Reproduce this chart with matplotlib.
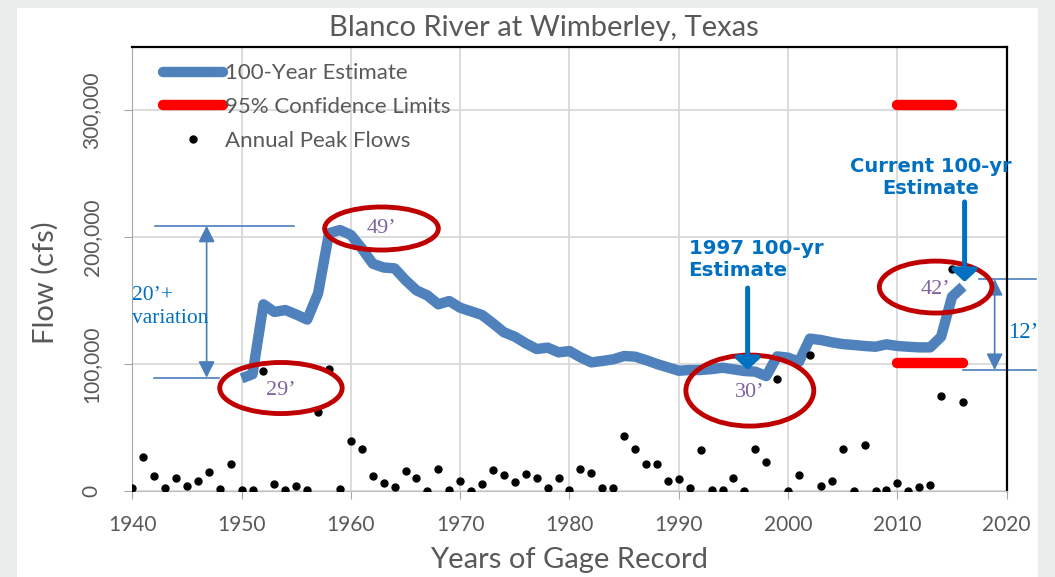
import matplotlib
matplotlib.use("Agg")
import matplotlib.pyplot as plt
from matplotlib import font_manager
from matplotlib.patches import Ellipse, Rectangle

names = {f.name for f in font_manager.fontManager.ttflist}
sans = 'Lato' if 'Lato' in names else 'DejaVu Sans'
serif = 'Liberation Serif'
plt.rcParams['font.family'] = [sans, 'DejaVu Sans']

# 100-year estimate, by year of record
est_years = list(range(1950, 2017))
est_flow = [88700, 92000, 147000, 141000, 142500, 139000, 135000, 155700, 203000, 205500,
            201600, 191000, 179000, 176000, 175300, 166000, 158000, 154000, 147000, 149600,
            144300, 141500, 138600, 132000, 125000, 121500, 116300, 111800, 112900, 109200,
            110200, 105300, 101300, 102400, 103700, 106300, 105800, 103100, 100000, 97400,
            94700, 95300, 95300, 96000, 97100, 95800, 94500, 94000, 90500, 106000,
            105000, 101800, 120000, 118900, 117100, 115700, 115000, 114200, 113600, 115500,
            114200, 113600, 113100, 113100, 121500, 153000, 161000]

# annual peak flows
peak_years = list(range(1940, 2017))
peak_flow = [2000, 27000, 12000, 2100, 10000, 4200, 7600, 14700, 1800, 21000,
             500, 1000, 94500, 5500, 800, 4000, 500, 62000, 96000, 1600,
             39000, 33000, 12000, 6500, 3400, 15700, 10000, 300, 17300, 800,
             7600, 0, 5500, 16300, 12800, 7100, 13600, 10200, 2100, 10200,
             800, 17000, 14000, 2400, 2100, 43500, 33000, 21000, 21000, 7600,
             9400, 2400, 32000, 800, 800, 10500, 0, 33300, 22600, 88000,
             0, 12800, 107000, 4000, 7900, 33000, 0, 36200, 0, 800,
             6000, 0, 3400, 4700, 75000, 174600, 70000]

# 95% confidence limits of the current estimate
upper_years = [2010, 2015]
upper_flow = [304000, 304000]
lower_years = [2010, 2016]
lower_flow = [100500, 100500]

blue = '#4f81bd'
text_blue = '#0070c0'
guide = '#4a7ebb'
gray = '#595959'

fig = plt.figure(figsize=(10.55, 5.77), dpi=100, facecolor='#e9edeb')
fig.patches.append(Rectangle((17 / 1055, 0), 1021 / 1055, 1 - 8 / 577, transform=fig.transFigure,
                             facecolor='white', edgecolor='none', zorder=-1))
ax = fig.add_axes([0.1254, 0.149, 0.8288, 0.7704])

ax.plot(est_years, est_flow, color=blue, lw=7.5, solid_joinstyle='round', solid_capstyle='butt',
        label='100-Year Estimate', zorder=3)
ax.plot(upper_years, upper_flow, color='#ff0000', lw=7.5, solid_capstyle='round',
        label='95% Confidence Limits', zorder=3)
ax.plot(lower_years, lower_flow, color='#ff0000', lw=7.5, solid_capstyle='round', zorder=3)
ax.plot(peak_years, peak_flow, 'o', color='black', ms=5, ls='none', label='Annual Peak Flows', zorder=4)

ax.set_xlim(1940, 2020)
ax.set_ylim(0, 350000)
ax.set_xticks(range(1940, 2021, 10))
ax.set_yticks([0, 100000, 200000, 300000])
ax.set_yticklabels(['0', '100,000', '200,000', '300,000'], rotation=90, va='center')
ax.tick_params(axis='both', colors='#a6a6a6', labelcolor=gray, labelsize=15, length=6)
ax.tick_params(axis='x', pad=11)
ax.tick_params(axis='y', pad=16)
ax.grid(color='#d9d9d9', lw=1.3)
ax.set_axisbelow(True)
for s in ['top', 'right']:
    ax.spines[s].set_color('black')
    ax.spines[s].set_linewidth(1.6)
ax.spines['left'].set_color('#a6a6a6')
ax.spines['bottom'].set_color('#bfbfbf')

ax.set_xlabel('Years of Gage Record', fontsize=21, color=gray, va='center')
ax.xaxis.set_label_coords(0.5, -0.155)
ax.set_ylabel('Flow (cfs)', fontsize=21, color=gray, va='center')
ax.yaxis.set_label_coords(-0.1, 0.468)
fig.text(544 / 1055, 1 - 28 / 577, 'Blanco River at Wimberley, Texas', ha='center', va='center',
         fontsize=21, color=gray)

leg = ax.legend(loc='upper left', bbox_to_anchor=(0.035, 0.962), frameon=False, fontsize=16,
                handlelength=2.7, handletextpad=0.1, labelspacing=0.61, borderpad=0, borderaxespad=0,
                labelcolor=gray)
for h in leg.get_lines()[:2]:
    h.set_solid_capstyle('round')

# circled stage heights
for (cx, cy, w, h), lab, ty in [((1953.6, 81100, 11.2, 40200), '29’', 79500),
                                ((1962.8, 206700, 10.4, 33900), '49’', 207000),
                                ((1996.5, 79100, 11.7, 55900), '30’', 77400),
                                ((2013.5, 160600, 10.3, 40900), '42’', 158300)]:
    ax.add_patch(Ellipse((cx, cy), w, h, fill=False, ec='#c00000', lw=3.5, zorder=5))
    ax.text(cx, ty, lab, family=serif, fontsize=16, color='#8064a2', ha='center', va='center', zorder=6)

# 20'+ variation guide
ax.plot([1942.1, 1954.8], [208900, 208900], color=guide, lw=1.2, zorder=2)
ax.plot([1942.0, 1947.9], [89200, 89200], color=guide, lw=1.2, zorder=2)
ax.annotate('', xy=(1946.8, 89200), xytext=(1946.8, 208900),
            arrowprops=dict(arrowstyle='<|-|>,head_length=0.5,head_width=0.25', mutation_scale=20,
                            lw=1.2, color=guide, shrinkA=0, shrinkB=0))
ax.text(1940.0, 145000, '20’+\nvariation', family=serif, fontsize=15.5, color=text_blue,
        ha='left', va='center', linespacing=1.25, zorder=6)

# 12' guide
ax.plot([2017.5, 2022.7], [166900, 166900], color=guide, lw=1.2, clip_on=False)
ax.plot([2016.0, 2022.7], [95300, 95300], color=guide, lw=1.2, clip_on=False)
ax.annotate('', xy=(2018.9, 95300), xytext=(2018.9, 166900),
            arrowprops=dict(arrowstyle='<|-|>,head_length=0.5,head_width=0.25', mutation_scale=20,
                            lw=1.2, color=guide, shrinkA=0, shrinkB=0), annotation_clip=False)
ax.text(2021.5, 125200, '12’', family=serif, fontsize=16.5, color=text_blue, ha='center', va='center',
        clip_on=False)

# callouts
ax.text(1990.9, 182300, '1997 100-yr\nEstimate', family='DejaVu Sans', weight='bold', fontsize=14.3,
        color=text_blue, ha='left', va='center', multialignment='left', linespacing=1.2)
ax.annotate('', xy=(1996.3, 95300), xytext=(1996.3, 159800),
            arrowprops=dict(arrowstyle='-|>,head_length=0.35,head_width=0.38', mutation_scale=20,
                            lw=3.6, color=text_blue, shrinkA=0, shrinkB=0), zorder=6)
ax.text(2013.05, 246500, 'Current 100-yr\nEstimate', family='DejaVu Sans', weight='bold', fontsize=14,
        color=text_blue, ha='center', va='center', multialignment='center', linespacing=1.2)
ax.annotate('', xy=(2016.15, 164600), xytext=(2016.15, 227600),
            arrowprops=dict(arrowstyle='-|>,head_length=0.35,head_width=0.38', mutation_scale=20,
                            lw=3.6, color=text_blue, shrinkA=0, shrinkB=0), zorder=6)

fig.savefig('out.png', dpi=100, facecolor=fig.get_facecolor())
